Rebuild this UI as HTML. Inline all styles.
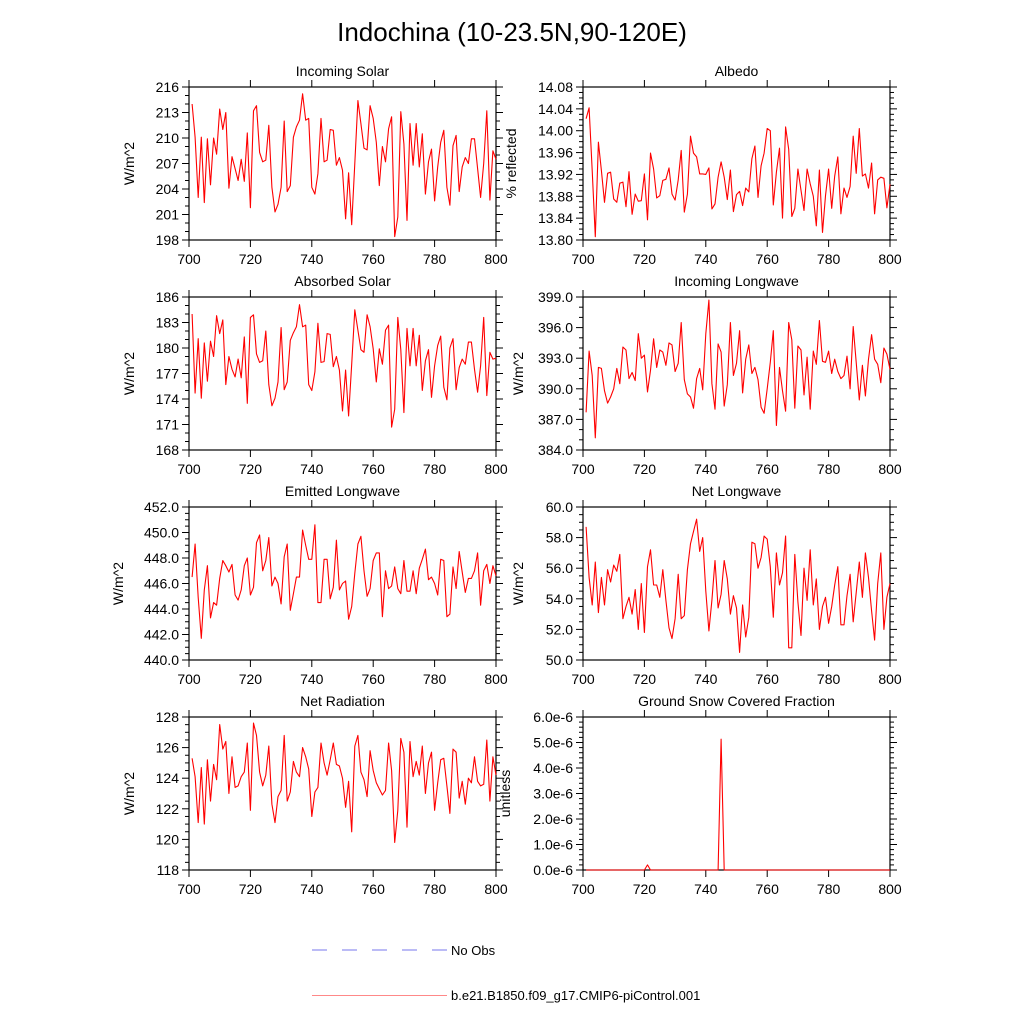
<!DOCTYPE html>
<html><head><meta charset="utf-8"><style>
html,body{margin:0;padding:0;background:#fff;}
svg text{font-family:"Liberation Sans",sans-serif;fill:#000;}
</style></head><body>
<svg id="fig" width="1024" height="1024" viewBox="0 0 1024 1024" xmlns="http://www.w3.org/2000/svg">
<rect width="1024" height="1024" fill="#fff"/>
<text x="512" y="41" font-size="26" text-anchor="middle">Indochina (10-23.5N,90-120E)</text>
<g id="panels"></g>
<g>
<line x1="312" y1="950" x2="447" y2="950" stroke="#7777ee" stroke-width="1" stroke-dasharray="15,15"/>
<text x="451" y="955" font-size="13">No Obs</text>
<line x1="312" y1="995.5" x2="447" y2="995.5" stroke="#ff8888" stroke-width="1"/>
<text x="451" y="1000" font-size="13">b.e21.B1850.f09_g17.CMIP6-piControl.001</text>
</g>
</svg>
<script>
const years=[];for(let y=701;y<=800;y++)years.push(y);
const xTicks=[700,720,740,760,780,800];
const incomingSolar=[214.0,210.1,203.0,210.1,202.4,209.9,204.5,210.0,208.1,213.4,211.0,213.0,204.1,207.8,206.4,205.0,207.5,204.9,210.6,201.8,213.2,213.8,208.3,207.2,207.4,211.5,204.2,201.3,202.2,204.2,212.0,203.7,204.4,210.1,211.3,212.1,215.2,212.1,212.3,204.2,203.4,205.8,212.3,207.2,207.4,211.0,210.9,206.8,207.7,206.2,200.5,205.9,199.8,207.0,214.4,211.7,208.8,208.6,213.8,212.3,209.5,204.4,209.0,207.2,211.1,212.5,198.4,200.7,213.1,209.3,200.3,211.7,206.8,211.7,206.6,210.5,203.4,207.2,208.7,202.6,206.6,209.5,210.9,204.2,202.1,209.1,210.3,203.7,206.6,207.7,207.0,209.9,209.9,206.4,203.0,207.0,213.2,202.7,208.5,207.5];
const albedo=[14.022,14.042,13.927,13.806,13.979,13.927,13.869,13.922,13.924,13.875,13.869,13.904,13.906,13.861,13.925,13.847,13.884,13.871,13.872,13.921,13.837,13.959,13.930,13.877,13.881,13.909,13.911,13.932,13.884,13.873,13.910,13.964,13.851,13.884,13.990,13.959,13.952,13.921,13.921,13.920,13.932,13.857,13.866,13.915,13.943,13.915,13.874,13.928,13.852,13.883,13.889,13.863,13.895,13.888,13.949,13.972,13.878,13.936,13.959,14.004,14.000,13.864,13.924,13.968,13.840,14.007,13.966,13.843,13.858,13.930,13.891,13.854,13.930,13.903,13.880,13.826,13.928,13.814,13.881,13.930,13.858,13.917,13.952,13.848,13.895,13.878,13.898,13.990,13.922,14.004,13.917,13.921,13.895,13.941,13.848,13.910,13.915,13.913,13.859,13.902];
const absorbedSolar=[184.0,174.7,181.1,174.1,180.6,176.1,180.8,179.0,183.8,181.7,183.3,175.7,179.0,177.5,176.6,178.7,176.5,181.3,173.5,183.6,183.9,179.3,178.3,178.5,182.0,175.7,173.2,174.1,176.0,182.4,175.1,176.0,180.9,181.8,182.5,185.1,182.5,182.7,175.7,175.0,177.2,182.9,178.3,178.4,181.7,181.6,177.8,179.0,177.4,172.6,177.4,172.0,178.1,184.5,182.1,179.8,179.5,183.9,182.5,179.9,176.0,179.9,178.1,182.1,182.7,170.7,172.8,183.6,179.8,172.4,182.3,177.9,182.3,177.9,181.5,175.0,178.5,179.8,174.2,177.9,180.3,181.4,175.4,173.9,180.0,181.1,175.1,177.7,178.7,178.1,180.7,180.7,177.5,174.8,177.9,183.6,174.4,179.5,178.7,178.8];
const incomingLW=[387.7,393.7,391.3,385.2,392.1,392.0,389.8,388.6,389.2,390.0,392.0,390.5,394.1,393.8,391.0,391.6,390.8,395.4,393.0,393.3,389.7,391.8,394.9,392.1,393.8,393.6,392.3,394.5,394.3,391.7,392.5,396.5,390.9,389.5,389.2,388.1,391.0,392.0,389.9,395.4,398.7,390.5,388.0,394.4,393.6,388.3,390.4,396.5,391.3,392.5,395.7,389.6,392.9,394.3,391.5,392.1,390.9,388.2,387.6,390.0,392.6,395.7,386.4,392.1,389.8,387.8,396.5,394.8,388.1,394.2,393.8,389.4,393.1,388.0,393.7,392.4,396.7,392.7,392.6,393.7,391.5,392.9,391.7,391.0,391.3,393.2,390.0,396.1,392.6,388.9,392.3,389.3,392.9,395.3,392.9,392.4,390.6,394.0,393.4,391.9];
const emittedLW=[446.5,449.1,444.9,441.7,445.5,447.4,443.3,444.5,444.3,446.4,447.8,447.4,446.9,447.5,445.1,444.7,445.5,447.4,448.0,445.1,445.7,449.2,449.8,447.0,447.8,449.6,445.8,446.5,446.0,444.4,448.1,449.1,443.9,445.2,446.5,446.5,450.2,449.0,447.9,447.9,450.6,444.5,444.5,447.9,447.9,444.8,445.7,449.4,445.5,446.0,446.2,443.2,444.2,446.8,449.1,449.7,447.0,445.0,445.6,447.8,448.4,448.4,443.4,447.0,445.6,445.8,447.3,445.6,445.2,447.8,445.4,445.4,447.0,445.2,447.2,447.9,448.7,446.3,446.5,446.0,445.1,447.9,447.8,443.4,443.6,447.3,445.6,448.5,446.9,445.3,446.4,446.4,447.0,448.4,444.3,447.0,447.5,446.0,447.4,446.6];
const netLW=[58.7,55.4,53.6,56.4,53.1,55.4,53.6,55.9,55.1,56.2,55.8,56.9,52.7,53.5,54.1,53.0,54.6,52.0,55.0,51.8,56.1,57.2,54.9,54.9,54.1,55.9,53.9,52.1,51.4,52.7,55.6,52.7,52.9,55.9,57.6,58.4,59.2,57.1,58.0,54.5,51.9,53.9,56.5,53.4,54.3,56.5,55.3,53.0,54.2,53.4,50.5,53.6,51.5,52.8,57.7,57.6,56.0,56.7,58.1,57.9,56.1,52.8,57.0,54.9,55.7,58.1,50.8,50.8,56.9,53.8,51.6,56.0,53.9,57.2,53.6,55.3,52.0,53.5,54.1,52.4,53.5,54.9,56.1,52.3,52.3,54.2,55.6,52.5,54.4,56.4,54.1,57.0,55.4,53.2,51.3,55.0,57.0,52.0,54.1,55.0];
const netRad=[125.3,124.1,121.1,124.7,121.0,125.2,122.5,124.9,123.9,127.5,125.9,126.4,123.0,125.4,123.4,123.5,124.1,124.4,126.3,121.9,127.6,126.8,124.4,123.5,124.2,126.1,122.3,121.1,122.8,123.2,126.8,122.5,123.1,125.1,124.4,124.1,126.0,125.4,124.6,121.5,123.1,123.4,126.3,125.0,124.2,125.2,126.3,124.9,124.8,124.0,122.1,123.8,120.5,126.1,126.8,124.4,123.9,122.8,125.8,124.5,123.7,123.3,122.9,123.2,126.3,124.5,119.8,121.9,126.6,125.7,120.8,126.4,124.1,125.1,124.2,126.1,123.0,125.0,125.7,121.9,123.7,125.2,125.3,123.5,121.7,125.9,125.7,122.7,123.8,122.3,124.0,123.7,125.4,123.8,123.5,123.6,126.5,122.5,125.4,124.2];
const snowFrac=[0,0,0,0,0,0,0,0,0,0,0,0,0,0,0,0,0,0,0,0,0.2e-6,0,0,0,0,0,0,0,0,0,0,0,0,0,0,0,0,0,0,0,0,0,0,0,5.13e-6,0,0,0,0,0,0,0,0,0,0,0,0,0,0,0,0,0,0,0,0,0,0,0,0,0,0,0,0,0,0,0,0,0,0,0,0,0,0,0,0,0,0,0,0,0,0,0,0,0,0,0,0,0,0,0];
const solarTicks=[198,201,204,207,210,213,216];
const albedoTicks=[13.80,13.84,13.88,13.92,13.96,14.00,14.04,14.08];
const absTicks=[168,171,174,177,180,183,186];
const ilwTicks=[384,387,390,393,396,399];
const elwTicks=[440,442,444,446,448,450,452];
const nlwTicks=[50,52,54,56,58,60];
const nrTicks=[118,120,122,124,126,128];
const snowTicks=[0,1e-6,2e-6,3e-6,4e-6,5e-6,6e-6];

const NS='http://www.w3.org/2000/svg';
const root=document.getElementById('panels');
function mk(tag,attrs,parent){const e=document.createElementNS(NS,tag);for(const k in attrs)e.setAttribute(k,attrs[k]);parent.appendChild(e);return e;}

function panel(o){
  const L=o.left,T=o.top,W=307,H=153,R=L+W,B=T+H;
  const g=mk('g',{},root);
  
  
  const y0=o.yt[0],y1=o.yt[o.yt.length-1];
  const xs=v=>L+(v-700)/100*W;
  const ys=v=>B-(v-y0)/(y1-y0)*H;
  // minor y ticks
  const step=(o.yt[1]-o.yt[0])/o.minor;
  for(let i=0;i<(o.yt.length-1)*o.minor;i++){
    if(i%o.minor===0)continue;
    const yy=ys(y0+i*step);
    mk('line',{x1:L-4,x2:L,y1:yy,y2:yy,stroke:'#000','stroke-width':1},g);
    mk('line',{x1:R,x2:R+4,y1:yy,y2:yy,stroke:'#000','stroke-width':1},g);
  }
  o.yt.forEach((v,i)=>{
    const yy=ys(v);
    mk('line',{x1:L-7,x2:L,y1:yy,y2:yy,stroke:'#000','stroke-width':1},g);
    mk('line',{x1:R,x2:R+7,y1:yy,y2:yy,stroke:'#000','stroke-width':1},g);
    const t=mk('text',{x:L-10,y:yy+5,'font-size':14,'text-anchor':'end'},g);
    
    
    t.textContent=o.fmt(v);
  });
  xTicks.forEach(v=>{
    const xx=xs(v);
    mk('line',{x1:xx,x2:xx,y1:B,y2:B+7,stroke:'#000','stroke-width':1},g);
    mk('line',{x1:xx,x2:xx,y1:T-7,y2:T,stroke:'#000','stroke-width':1},g);
    const t=mk('text',{x:xx,y:B+24,'font-size':14,'text-anchor':'middle'},g);
    
    
    t.textContent=v;
  });
  const fr=mk('rect',{x:L,y:T,width:W,height:H,fill:'none',stroke:'#000','stroke-width':1.2},g);
  
  
  const pts=o.data.map((v,i)=>xs(years[i]).toFixed(1)+','+ys(v).toFixed(1)).join(' ');
  const pl=mk('polyline',{points:pts,fill:'none',stroke:'#ff0000','stroke-width':1.1,'stroke-linejoin':'round'},g);
  
  
  const tt=mk('text',{x:L+W/2,y:T-11,'font-size':14,'text-anchor':'middle'},g);
  
  
  tt.textContent=o.title;
  const ax=o.ytx, ay=T+H/2;
  const yt=mk('text',{x:ax,y:ay,'font-size':14,'text-anchor':'middle',transform:'rotate(-90 '+ax+' '+ay+')'},g);
  
  
  yt.textContent=o.ylab;
}
const f0=v=>v.toFixed(0), f1=v=>v.toFixed(1), f2=v=>v.toFixed(2);
const fe=v=>(v/1e-6).toFixed(1)+'e-6';
const LX=189,RX=583;
panel({name:'incoming-solar',left:LX,top:87,yt:solarTicks,minor:3,fmt:f0,data:incomingSolar,title:'Incoming Solar',ylab:'W/m^2',ytx:134});
panel({name:'albedo',left:RX,top:87,yt:albedoTicks,minor:4,fmt:f2,data:albedo,title:'Albedo',ylab:'% reflected',ytx:516});
panel({name:'absorbed-solar',left:LX,top:297,yt:absTicks,minor:3,fmt:f0,data:absorbedSolar,title:'Absorbed Solar',ylab:'W/m^2',ytx:134});
panel({name:'incoming-longwave',left:RX,top:297,yt:ilwTicks,minor:3,fmt:f1,data:incomingLW,title:'Incoming Longwave',ylab:'W/m^2',ytx:523});
panel({name:'emitted-longwave',left:LX,top:507,yt:elwTicks,minor:4,fmt:f1,data:emittedLW,title:'Emitted Longwave',ylab:'W/m^2',ytx:123});
panel({name:'net-longwave',left:RX,top:507,yt:nlwTicks,minor:4,fmt:f1,data:netLW,title:'Net Longwave',ylab:'W/m^2',ytx:523});
panel({name:'net-radiation',left:LX,top:717,yt:nrTicks,minor:4,fmt:f0,data:netRad,title:'Net Radiation',ylab:'W/m^2',ytx:134});
panel({name:'ground-snow',left:RX,top:717,yt:snowTicks,minor:5,fmt:fe,data:snowFrac,title:'Ground Snow Covered Fraction',ylab:'unitless',ytx:510});
</script>
</body></html>
